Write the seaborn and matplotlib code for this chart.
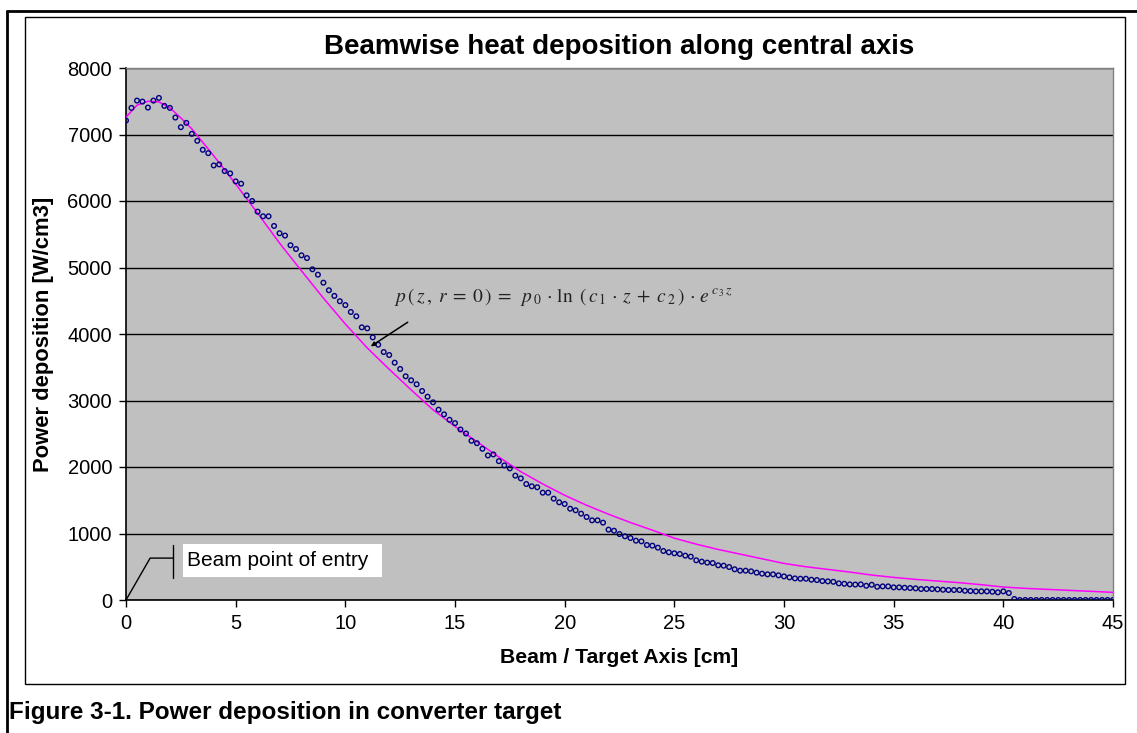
import numpy as np
import pandas as pd
import matplotlib
matplotlib.use("Agg")
import matplotlib.pyplot as plt
import seaborn as sns
from matplotlib.patches import Rectangle
from matplotlib.lines import Line2D

# ---------------- data ----------------
z_step = 0.25  # cm between simulated points
power_dots = [
    7210, 7400, 7510, 7495, 7405, 7510, 7550, 7430, 7400, 7255,
    7110, 7175, 7010, 6905, 6770, 6720, 6535, 6550, 6450, 6415,
    6295, 6260, 6085, 6000, 5840, 5770, 5770, 5625, 5515, 5480,
    5335, 5278, 5183, 5142, 4973, 4892, 4772, 4658, 4573, 4493,
    4435, 4331, 4266, 4100, 4085, 3950, 3839, 3729, 3684, 3569,
    3474, 3364, 3304, 3244, 3143, 3057, 2973, 2862, 2792, 2710,
    2660, 2564, 2504, 2394, 2358, 2274, 2174, 2189, 2088, 2024,
    1979, 1870, 1829, 1744, 1710, 1695, 1614, 1614, 1524, 1469,
    1444, 1373, 1349, 1298, 1248, 1198, 1198, 1163, 1058, 1042,
    992, 958, 932, 892, 882, 827, 817, 787, 737, 717,
    702, 692, 667, 652, 597, 577, 562, 556, 522, 516,
    496, 462, 441, 441, 431, 411, 396, 386, 386, 371,
    355, 340, 325, 320, 320, 305, 300, 285, 280, 274,
    250, 244, 235, 232, 235, 214, 229, 199, 205, 205,
    190, 190, 184, 180, 175, 165, 165, 165, 160, 154,
    150, 150, 150, 139, 135, 130, 130, 130, 124, 115,
    130, 105, 15, 0, 0, 0, 0, 0, 0, 0,
    0, 0, 0, 0, 0, 0, 0, 0, 0, 0,
    0,
]
z_dots = np.arange(len(power_dots)) * z_step

z_fit = [0, 0.5, 1, 1.5, 2, 2.5, 3, 4, 5, 6, 7, 8, 9, 10, 11, 12, 13, 14, 15,
         16, 17, 18, 19, 20, 21, 22, 23, 24, 25, 26, 27, 28, 29, 30, 31, 32,
         33, 34, 35, 36, 37, 38, 39, 40, 41, 42, 43, 44, 45]
power_fit = [7260, 7440, 7500, 7490, 7400, 7250, 7085, 6680, 6256, 5817, 5367,
             4950, 4540, 4150, 3790, 3470, 3160, 2860, 2610, 2380, 2150, 1930,
             1745, 1575, 1425, 1290, 1165, 1050, 930, 840, 760, 690, 620, 550,
             500, 460, 420, 375, 340, 310, 285, 260, 230, 195, 175, 160, 145,
             130, 115]

x_ticks = [0, 5, 10, 15, 20, 25, 30, 35, 40, 45]
y_ticks = [0, 1000, 2000, 3000, 4000, 5000, 6000, 7000, 8000]

title = "Beamwise heat deposition along central axis"
x_label = "Beam / Target Axis [cm]"
y_label = "Power deposition [W/cm3]"
caption = "Figure 3-1. Power deposition in converter target"
entry_label = "Beam point of entry"
formula = (r"$p\,(\,z\,,\;r\;=\;0\,)\;=\;\;p_{\,0}\,\cdot\,\mathrm{ln}\;\;"
           r"(\,c_{\,1}\,\cdot\,z\;+\;c_{\,2}\,)\,\cdot\,e^{\,c_{\,3}\,z}$")

df_dots = pd.DataFrame({"z": z_dots, "p": power_dots})
df_fit = pd.DataFrame({"z": z_fit, "p": power_fit})

# ---------------- style ----------------
sns.set_style("white")
plt.rcParams["font.family"] = ["Liberation Sans", "DejaVu Sans"]
plt.rcParams["mathtext.fontset"] = "stix"
for key in ["text.color", "axes.labelcolor", "xtick.color", "ytick.color",
            "axes.titlecolor"]:
    plt.rcParams[key] = "black"

W, H = 1137, 733
fig = plt.figure(figsize=(W / 100, H / 100), dpi=100)
fig.patch.set_facecolor("white")
ax = fig.add_axes([126 / W, 1 - 600 / H, 987 / W, 532 / H])
ax.set_facecolor("#C0C0C0")

ax.yaxis.grid(True, color="black", linewidth=1.0)
ax.xaxis.grid(False)
ax.set_axisbelow(True)

sns.lineplot(data=df_fit, x="z", y="p", ax=ax, color="#FF00FF",
             linewidth=1.1, zorder=3, legend=False)
sns.scatterplot(data=df_dots, x="z", y="p", ax=ax, marker="o", s=11,
                facecolor="none", edgecolor="#000080", linewidth=1.0,
                zorder=4, legend=False)

ax.set_xlim(0, 45)
ax.set_ylim(0, 8000)
ax.set_xticks(x_ticks)
ax.set_yticks(y_ticks)
ax.set_xticklabels([str(t) for t in x_ticks])
ax.set_yticklabels([str(t) for t in y_ticks])
ax.tick_params(axis="both", direction="out", length=5, width=1,
               color="black", labelsize=14.5, labelcolor="black", pad=5,
               bottom=True, left=True)

for side in ["left", "bottom"]:
    ax.spines[side].set_color("black")
    ax.spines[side].set_linewidth(1.2)
for side in ["top", "right"]:
    ax.spines[side].set_color("#808080")
    ax.spines[side].set_linewidth(1.0)

ax.set_title(title, fontsize=20, fontweight="bold", pad=10)
ax.set_xlabel(x_label, fontsize=15.2, fontweight="bold", labelpad=11)
ax.set_ylabel(y_label, fontsize=15.8, fontweight="bold", labelpad=10)

# formula annotation with arrow
ax.text(12.2, 4560, formula, fontsize=14, color="#222222",
        ha="left", va="center", zorder=6)
ax.annotate("", xy=(11.05, 3790), xytext=(12.95, 4200),
            arrowprops=dict(arrowstyle="-|>,head_length=0.25,head_width=0.12",
                            color="black", lw=1.1), zorder=6)

# beam point of entry callout
ax.add_line(Line2D([0, 1.1, 2.15], [0, 630, 630], color="black", lw=1,
                   zorder=6, clip_on=False))
ax.add_line(Line2D([2.15, 2.15], [330, 820], color="black", lw=1, zorder=6))
ax.add_patch(Rectangle((2.6, 345), 9.07, 495, facecolor="white",
                       edgecolor="none", zorder=6))
ax.text(2.78, 600, entry_label, fontsize=15, ha="left", va="center",
        zorder=7)

# frames
fig.add_artist(Rectangle((25 / W, 1 - 684 / H), 1100 / W, 667 / H,
                         transform=fig.transFigure, fill=False,
                         edgecolor="black", linewidth=1.0))
fig.add_artist(Line2D([7 / W, 1], [1 - 11 / H, 1 - 11 / H],
                      transform=fig.transFigure, color="black", lw=2))
fig.add_artist(Line2D([7 / W, 7 / W], [0, 1 - 11 / H],
                      transform=fig.transFigure, color="black", lw=2))

fig.text(9 / W, 1 - 712 / H, caption, fontsize=17.5, fontweight="bold",
         ha="left", va="center")

fig.savefig("out.png", dpi=100, facecolor="white")
